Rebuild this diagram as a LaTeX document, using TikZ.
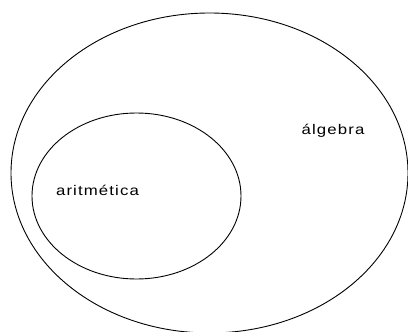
\documentclass[tikz,border=0pt]{standalone}
\usepackage{fontspec}
\setmainfont{Liberation Sans}[FakeStretch=1.2, LetterSpace=8]
\usetikzlibrary{shapes.geometric}

\begin{document}
\begin{tikzpicture}[
    x=1pt, y=-1pt,
    set/.style={
        ellipse, draw=black, line width=0.9pt, inner sep=0pt
    },
    setlabel/.style={
        font=\fontsize{14}{16}\selectfont, text=black,
        anchor=base, inner sep=0pt
    }
]

% Frame
\useasboundingbox (0,0) rectangle (408,332);
\clip (0,0) rectangle (408,332);

% Sets
\node[set, minimum width=397pt, minimum height=320pt] (algebra)
    at (209.5,173) {};
\node[set, minimum width=209pt, minimum height=166pt] (aritmetica)
    at (136.5,196) {};

% Labels
\node[setlabel] (algebralabel) at (333,135) {álgebra};
\node[setlabel] (aritmeticalabel) at (97.5,195) {aritmética};

\end{tikzpicture}
\end{document}
